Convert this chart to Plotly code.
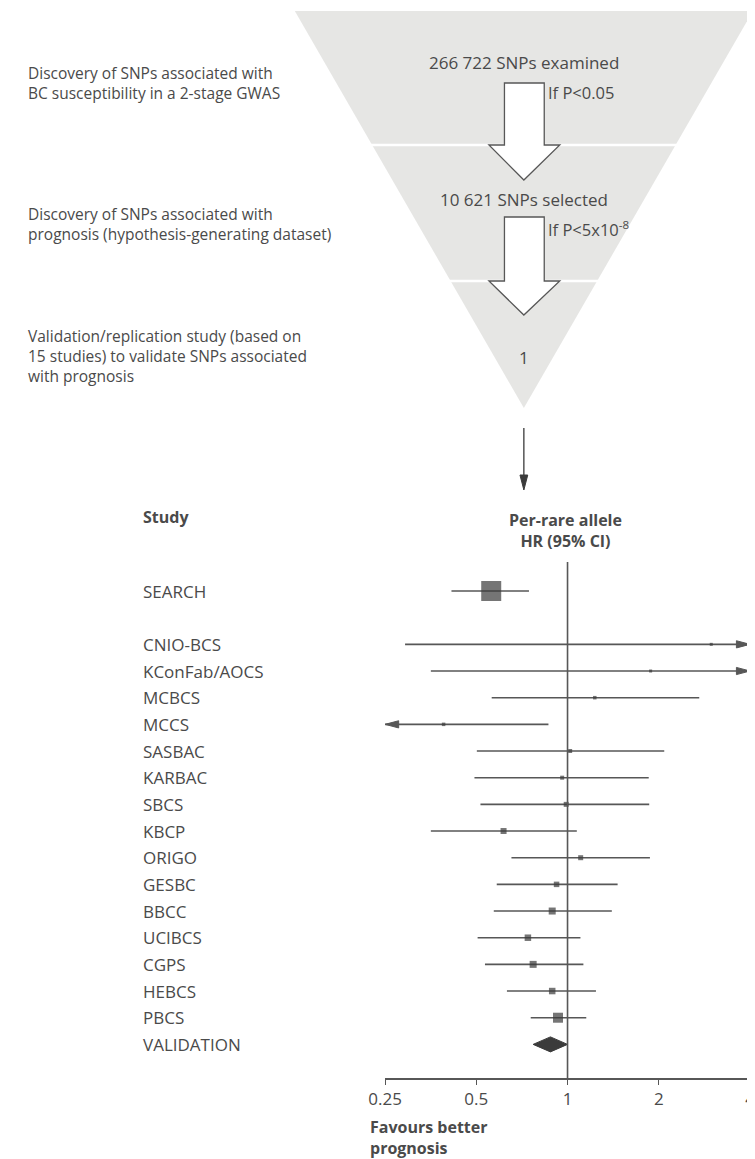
import numpy as np
import plotly.graph_objects as go

# ---------------- data ----------------
studies = ["SEARCH", "CNIO-BCS", "KConFab/AOCS", "MCBCS", "MCCS", "SASBAC", "KARBAC", "SBCS",
           "KBCP", "ORIGO", "GESBC", "BBCC", "UCIBCS", "CGPS", "HEBCS", "PBCS"]
hr = [0.56, 2.98, 1.88, 1.23, 0.39, 1.02, 0.96, 0.99, 0.615, 1.105, 0.92, 0.89, 0.74, 0.77, 0.89, 0.93]
ci_low = [0.414, 0.291, 0.354, 0.562, 0.22, 0.502, 0.493, 0.516, 0.354, 0.653, 0.584, 0.571, 0.505, 0.534, 0.631, 0.756]
ci_high = [0.746, 6.5, 6.5, 2.72, 0.865, 2.085, 1.853, 1.86, 1.073, 1.87, 1.463, 1.40, 1.103, 1.128, 1.241, 1.153]
weight_px = [20, 3, 3, 3.5, 3.5, 4, 4, 5, 6, 5, 5.5, 7, 6.5, 7, 6.5, 10]

pooled_label = "VALIDATION"
pooled_hr = 0.878
pooled_low = 0.77
pooled_high = 1.0

tick_vals = [0.25, 0.5, 1, 2, 4]
tick_text = ["0.25", "0.5", "1", "2", "4"]

stage_counts = ["266 722 SNPs examined", "10 621 SNPs selected", "1"]
stage_filters = ["If P&lt;0.05", "If P&lt;5x10<sup>-8</sup>"]
stage_desc = [
    ["Discovery of SNPs associated with", "BC susceptibility in a 2-stage GWAS"],
    ["Discovery of SNPs associated with", "prognosis (hypothesis-generating dataset)"],
    ["Validation/replication study (based on", "15 studies) to validate SNPs associated", "with prognosis"],
]

# ---------------- layout constants ----------------
# page body has an 8px margin: the figure is sized so that it ends at the window edge
OFF = 8
W, H = 755, 1159
FONT = "Open Sans, Noto Sans, DejaVu Sans, sans-serif"
TXT = "#4a4a4a"
LINE = "#575757"
DARK = "#3b3b3b"

XMIN, XMAX = 0.25, 4.0
X_LEFT_PX = 379
rows = [0] + list(range(2, 2 + len(studies) - 1))
pooled_row = rows[-1] + 1
AX_PX, TOP_PX = 1078, 560
ROW0_PX, ROW_PX = 591.0, 26.67
Y_BOT = (AX_PX - ROW0_PX) / ROW_PX
Y_TOP = (TOP_PX - ROW0_PX) / ROW_PX
px_per_oct = (W - X_LEFT_PX) / np.log2(XMAX / XMIN)

fig = go.Figure()

# CI lines (clipped to axis range, arrows where they exceed)
lx, ly = [], []
ax_, ay_ = [], []
head_len = 2 ** (14 / px_per_oct)
head_h = 3.6 / ROW_PX
for r, lo, hi in zip(rows, ci_low, ci_high):
    a = max(lo, XMIN)
    b = min(hi, XMAX)
    lx += [a, b, None]
    ly += [r, r, None]
    if hi > XMAX:
        ax_ += [XMAX, XMAX / head_len, XMAX / head_len, XMAX, None]
        ay_ += [r, r - head_h, r + head_h, r, None]
    if lo < XMIN:
        ax_ += [XMIN, XMIN * head_len, XMIN * head_len, XMIN, None]
        ay_ += [r, r - head_h, r + head_h, r, None]
fig.add_trace(go.Scatter(x=lx, y=ly, mode="lines", line=dict(color=LINE, width=1.6),
                         hoverinfo="skip", showlegend=False))
fig.add_trace(go.Scatter(x=ax_, y=ay_, mode="lines", fill="toself", fillcolor=LINE,
                         line=dict(color=LINE, width=1), hoverinfo="skip", showlegend=False))

# boxes
fig.add_trace(go.Scatter(x=hr, y=rows, mode="markers",
                         marker=dict(symbol="square", size=weight_px, color=DARK, line=dict(width=0)),
                         hoverinfo="skip", showlegend=False))

# pooled diamond
dh = 7.5 / ROW_PX
fig.add_trace(go.Scatter(x=[pooled_low, pooled_hr, pooled_high, pooled_hr, pooled_low],
                         y=[pooled_row, pooled_row - dh, pooled_row, pooled_row + dh, pooled_row],
                         mode="lines", fill="toself", fillcolor=DARK, line=dict(color=DARK, width=1),
                         hoverinfo="skip", showlegend=False))

# line of no effect
fig.add_trace(go.Scatter(x=[1, 1], y=[(562 - ROW0_PX) / ROW_PX, Y_BOT], mode="lines",
                         line=dict(color=LINE, width=1.6), hoverinfo="skip", showlegend=False))

# connecting arrow between funnel and forest plot (pixel overlay axes)
fig.add_trace(go.Scatter(x=[522, 522], y=[428, 480], mode="lines", line=dict(color=DARK, width=1.3),
                         xaxis="x2", yaxis="y2", hoverinfo="skip", showlegend=False))
fig.add_trace(go.Scatter(x=[518, 526, 522, 518], y=[475, 475, 490, 475], mode="lines", fill="toself",
                         fillcolor=DARK, line=dict(color=DARK, width=1), xaxis="x2", yaxis="y2",
                         hoverinfo="skip", showlegend=False))

annotations = []


def txt(x, y, t, size, anchor="left", bold=False, yref="y2"):
    annotations.append(dict(x=x, y=y, xref="x2", yref=yref, text=f"<b>{t}</b>" if bold else t,
                            showarrow=False, xanchor=anchor, yanchor="middle", align=anchor,
                            font=dict(size=size, color=TXT, family=FONT)))


# study labels
for r, s in zip(rows + [pooled_row], studies + [pooled_label]):
    txt(128, r, s, 17, yref="y")

# headers
txt(128, 517, "Study", 16, bold=True)
txt(565, 530, "Per-rare allele<br>HR (95% CI)", 16, anchor="center", bold=True)
txt(361, 1137.5, "Favours better<br>prognosis", 16, bold=True)

# funnel texts
for t, yy in zip(stage_counts, [62, 199, 357]):
    txt(522, yy, t, 17, anchor="center")
for t, yy in zip(stage_filters, [92, 229]):
    txt(545, yy, t, 16.5)
for lines, yc in zip(stage_desc, [82.5, 223.5, 356]):
    txt(9, yc, "<br>".join(lines), 15.5)

shapes = []
# funnel triangle
shapes.append(dict(type="path", xref="x2", yref="y2", path="M 286 11 L 758 11 L 522 408 Z",
                   fillcolor="#e6e6e4", line=dict(width=0), layer="below"))
for yy in [145, 281]:
    shapes.append(dict(type="line", xref="x2", yref="y2", x0=250, x1=760, y0=yy, y1=yy,
                       line=dict(color="white", width=2.5), layer="below"))


def block_arrow(top, base, tip):
    return (f"M 502 {top} L 543 {top} L 543 {base} L 559 {base} L 522 {tip} "
            f"L 486 {base} L 502 {base} Z")


for top, base, tip in [(83, 145, 180), (217, 281, 315)]:
    shapes.append(dict(type="path", xref="x2", yref="y2", path=block_arrow(top, base, tip),
                       fillcolor="white", line=dict(color=LINE, width=1.3)))

fig.update_layout(
    width=W - OFF, height=H - OFF,
    margin=dict(l=0, r=0, t=0, b=0),
    paper_bgcolor="white", plot_bgcolor="rgba(0,0,0,0)",
    showlegend=False,
    xaxis=dict(type="log", domain=[(X_LEFT_PX - OFF) / (W - OFF), 1.0],
               range=[np.log10(XMIN), np.log10(XMAX)],
               tickvals=tick_vals, ticktext=tick_text, showgrid=False, zeroline=False,
               showline=True, linecolor=LINE, linewidth=1.6, ticks="outside", ticklen=5,
               tickcolor=LINE, tickwidth=1.4, tickfont=dict(size=17, color=TXT, family=FONT),
               ticklabeloverflow="allow", fixedrange=True),
    yaxis=dict(domain=[(H - AX_PX) / (H - OFF), (H - TOP_PX) / (H - OFF)], range=[Y_BOT, Y_TOP],
               visible=False, showgrid=False, zeroline=False, fixedrange=True),
    xaxis2=dict(domain=[0, 1], range=[OFF, W], visible=False, anchor="y2", fixedrange=True),
    yaxis2=dict(domain=[0, 1], range=[H, OFF], visible=False, anchor="x2", fixedrange=True),
    annotations=annotations,
    shapes=shapes,
)

fig.write_html("out.html")
